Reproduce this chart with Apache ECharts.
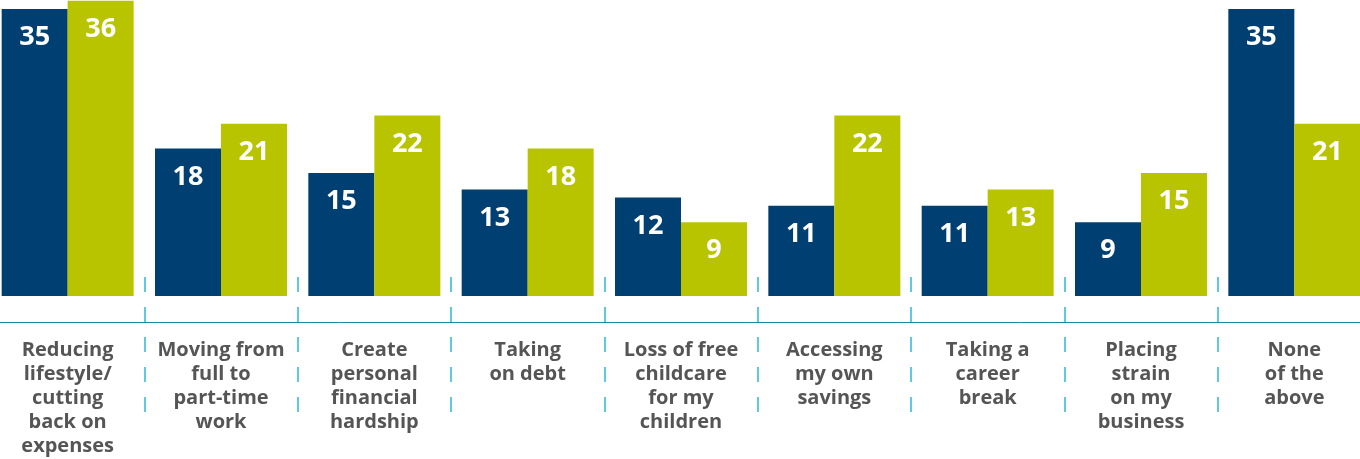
<!DOCTYPE html>
<html>
<head>
<meta charset="utf-8">
<script src="https://cdn.jsdelivr.net/npm/echarts@6/dist/echarts.min.js"></script>
<style>
  html, body { margin: 0; padding: 0; background: #ffffff; }
  #chart { width: 1360px; height: 459px; }
</style>
</head>
<body>
<div id="chart"></div>
<script>
// Categories (line breaks as set in the axis labels)
const categories = [
  'Reducing\nlifestyle/\ncutting\nback on\nexpenses',
  'Moving from\nfull to\npart-time\nwork',
  'Create\npersonal\nfinancial\nhardship',
  'Taking\non debt',
  'Loss of free\nchildcare\nfor my\nchildren',
  'Accessing\nmy own\nsavings',
  'Taking a\ncareer\nbreak',
  'Placing\nstrain\non my\nbusiness',
  'None\nof the\nabove'
];

// Two series of percentages
const seriesA = [35, 18, 15, 13, 12, 11, 11, 9, 35];
const seriesB = [36, 21, 22, 18, 9, 22, 13, 15, 21];

const NAVY = '#003f71';
const LIME = '#b8c400';
const FONT = '"Open Sans", "Noto Sans", sans-serif';

const valueLabel = {
  show: true,
  position: 'insideTop',
  distance: 15,
  color: '#ffffff',
  fontFamily: FONT,
  fontWeight: 'bold',
  fontSize: 27
};

// the plot runs slightly past both edges of the canvas
const gridBase = { left: -9, right: -11, containLabel: false, outerBoundsMode: 'none' };

const chart = echarts.init(document.getElementById('chart'), null, { renderer: 'canvas' });

chart.setOption({
  animation: false,
  backgroundColor: '#ffffff',
  grid: [
    // main plotting area; bottom edge carries the axis line
    Object.assign({ top: 0, bottom: 137 }, gridBase),
    // band that holds the dashed category separators
    Object.assign({ top: 277, height: 135 }, gridBase)
  ],
  xAxis: [
    {
      type: 'category',
      gridIndex: 0,
      data: categories,
      axisLine: { show: true, onZero: false, lineStyle: { color: '#1b8a98', width: 1 } },
      axisTick: { show: false },
      splitLine: { show: false },
      axisLabel: {
        interval: 0,
        margin: 16,
        color: '#555555',
        fontFamily: FONT,
        fontWeight: 'bold',
        fontSize: 20,
        lineHeight: 24,
        align: 'center'
      }
    },
    {
      type: 'category',
      gridIndex: 1,
      data: categories,
      axisLine: { show: false },
      axisTick: { show: false },
      axisLabel: { show: false },
      splitLine: {
        show: true,
        interval: 0,
        lineStyle: { color: '#2bb8d6', width: 1.5, type: [15, 15] }
      }
    }
  ],
  yAxis: [
    {
      type: 'value',
      gridIndex: 0,
      min: -3.17,
      max: 36.1,
      show: false,
      splitLine: { show: false }
    },
    {
      type: 'value',
      gridIndex: 1,
      show: false,
      splitLine: { show: false }
    }
  ],
  series: [
    {
      type: 'bar',
      xAxisIndex: 0,
      yAxisIndex: 0,
      data: seriesA,
      barWidth: 66,
      barGap: '0%',
      itemStyle: { color: NAVY },
      label: valueLabel
    },
    {
      type: 'bar',
      xAxisIndex: 0,
      yAxisIndex: 0,
      data: seriesB,
      barWidth: 66,
      barGap: '0%',
      itemStyle: { color: LIME },
      label: valueLabel
    }
  ]
});
</script>
</body>
</html>
